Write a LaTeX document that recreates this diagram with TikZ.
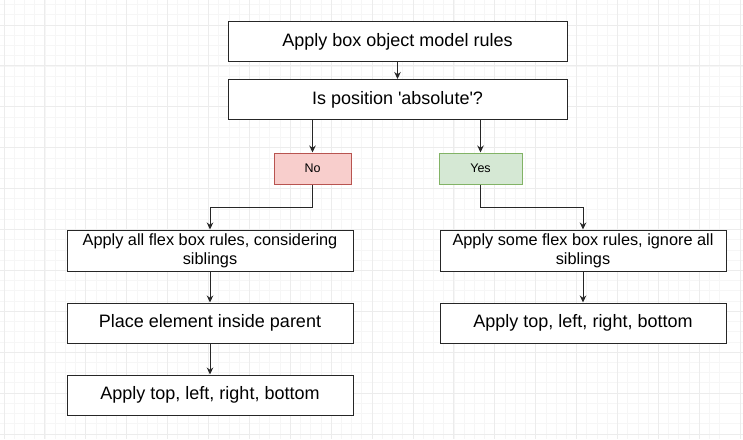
\documentclass[tikz,border=0pt]{standalone}
\usepackage{fontspec}
\setmainfont{Liberation Sans}
\usetikzlibrary{positioning,arrows.meta}

\definecolor{nofill}{HTML}{F8CECC}
\definecolor{nodraw}{HTML}{B85450}
\definecolor{yesfill}{HTML}{D5E8D4}
\definecolor{yesdraw}{HTML}{82B366}

\tikzset{
	gridminor/.style={draw=gray!7, line width=0.6pt},
	gridmajor/.style={draw=gray!15, line width=0.8pt},
	stepbox/.style={draw=black!85, line width=1pt, fill=white, minimum width=339pt, minimum height=40pt, inner sep=2pt, align=center, font=\fontsize{18}{21}\selectfont},
	rulebox/.style={stepbox, minimum width=286pt, minimum height=40pt},
	flexbox/.style={rulebox, minimum height=41pt, font=\fontsize{16.3}{19}\selectfont},
	answer/.style={draw, line width=1pt, minimum height=31pt, inner sep=2pt, font=\fontsize{12.5}{14}\selectfont},
	arrow/.style={draw=black!85, line width=1pt, -{Stealth[length=7pt,width=6.5pt]}}
}

\begin{document}
\begin{tikzpicture}[x=1pt, y=-1pt]
	\useasboundingbox (0,0) rectangle (743,439);
	% background grid
	\begin{scope}
		\clip (0,0) rectangle (743,439);
		\foreach \i in {0,...,74} \draw[gridminor] ({-37+\i*10.225},0) -- ++(0,439);
		\foreach \i in {0,...,46} \draw[gridminor] (0,{-16+\i*10.225}) -- ++(743,0);
		\foreach \i in {0,...,19} \draw[gridmajor] ({-37+\i*40.9},0) -- ++(0,439);
		\foreach \i in {0,...,11} \draw[gridmajor] (0,{-16+\i*40.9}) -- ++(743,0);
	\end{scope}

	\node[stepbox] (boxmodel) at (397.5,41.5) {Apply box object model rules};
	\node[stepbox, below=17pt of boxmodel] (isabs) {Is position \textquotesingle absolute\textquotesingle?};
	\node[answer, fill=nofill, draw=nodraw, minimum width=77pt] (no) at (312.5,168.5) {No};
	\node[answer, fill=yesfill, draw=yesdraw, minimum width=83pt] (yes) at (480.5,168.5) {Yes};

	\node[flexbox] (flexall) at (210,250.5) {Apply all flex box rules, considering\\siblings};
	\node[rulebox, below=31pt of flexall] (place) {Place element inside parent};
	\node[rulebox, below=31pt of place] (offsetsno) {Apply top, left, right, bottom};

	\node[flexbox] (flexsome) at (583,250.5) {Apply some flex box rules, ignore all\\siblings};
	\node[rulebox, below=31pt of flexsome] (offsetsyes) {Apply top, left, right, bottom};

	\draw[arrow] (boxmodel) -- (isabs);
	\draw[arrow] (isabs.south -| no) -- (no);
	\draw[arrow] (isabs.south -| yes) -- (yes);
	\draw[arrow] (no.south) -- ++(0,23) -| (flexall.north);
	\draw[arrow] (yes.south) -- ++(0,23) -| (flexsome.north);
	\draw[arrow] (flexall) -- (place);
	\draw[arrow] (place) -- (offsetsno);
	\draw[arrow] (flexsome) -- (offsetsyes);
\end{tikzpicture}
\end{document}
